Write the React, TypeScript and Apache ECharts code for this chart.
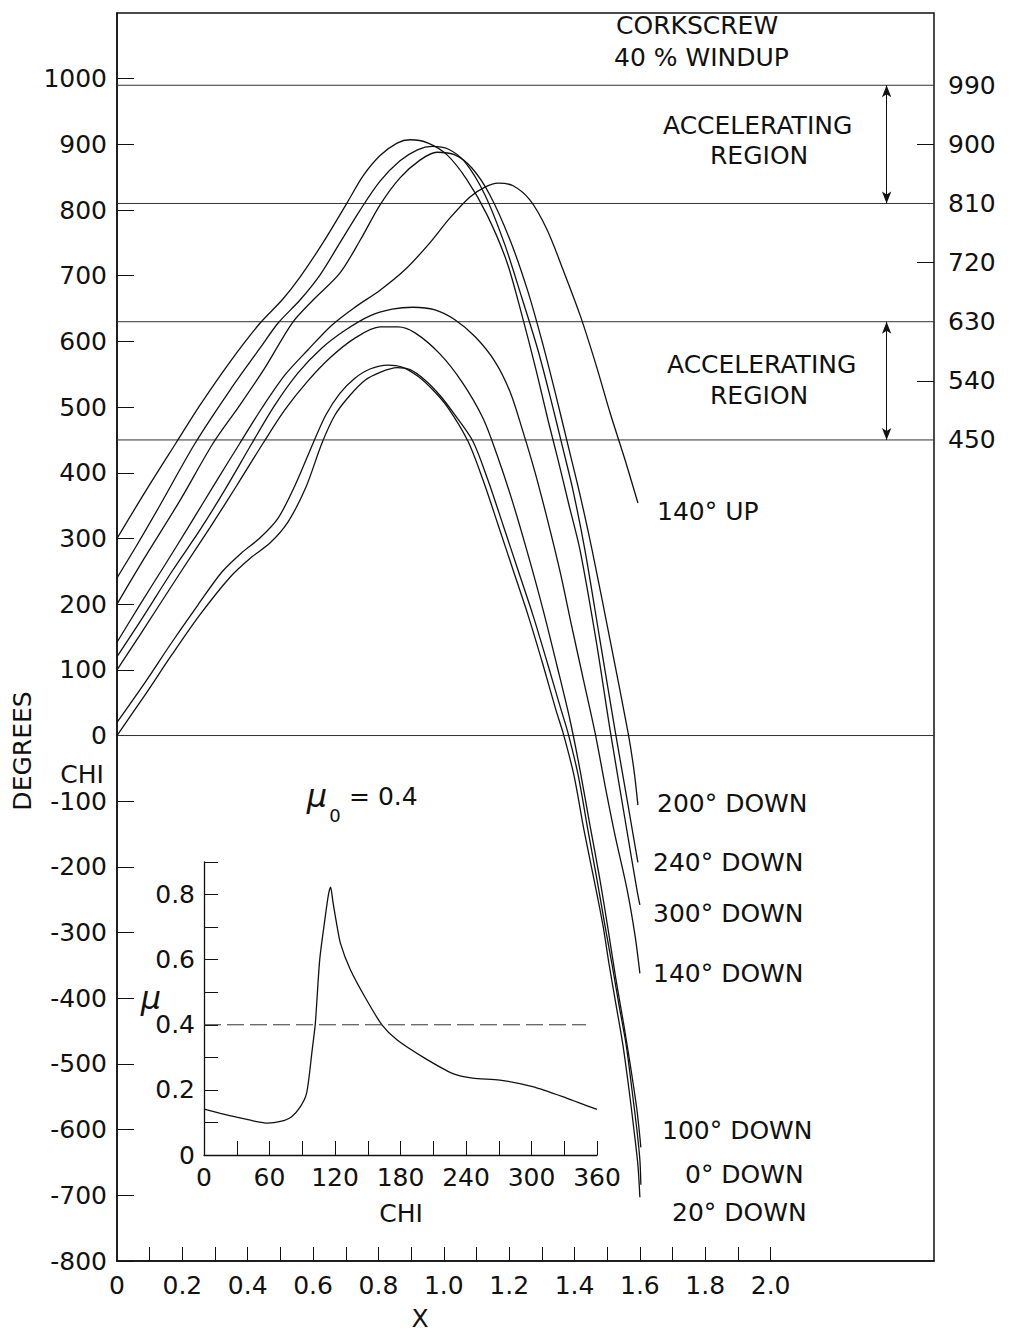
import React, { useEffect, useRef } from 'react';
import * as echarts from 'echarts';

const FONT = "'DejaVu Sans', 'Liberation Sans', sans-serif";

// ---------- main chart axes ----------
const xLabelValues = [0, 0.2, 0.4, 0.6, 0.8, 1.0, 1.2, 1.4, 1.6, 1.8, 2.0];
const xTickValues = [0.1, 0.2, 0.3, 0.4, 0.5, 0.6, 0.7, 0.8, 0.9, 1.0, 1.1, 1.2, 1.3, 1.4, 1.5, 1.6, 1.7, 1.8, 1.9, 2.0];
const yTickValues = [-800, -700, -600, -500, -400, -300, -200, -100, 0, 100, 200, 300, 400, 500, 600, 700, 800, 900, 1000];
const rightLabelValues = [450, 540, 630, 720, 810, 900, 990];
const rightTickValues = [540, 720, 900];
const regionLines = [990, 810, 630, 450, 0];
const acceleratingRanges = [[990, 810], [630, 450]];
const arrowX = 2.355;

// ---------- CHI (degrees) versus X curves ----------
const down300 = [[0, 300], [0.09, 374], [0.18, 445], [0.254, 503], [0.346, 569], [0.438, 628], [0.505, 663], [0.56, 698], [0.63, 750], [0.704, 811], [0.753, 852], [0.805, 883], [0.857, 902], [0.897, 907], [0.952, 902], [1.01, 884], [1.071, 846], [1.132, 793], [1.193, 721], [1.239, 640], [1.282, 557], [1.319, 480], [1.35, 419], [1.383, 351], [1.417, 282], [1.466, 145], [1.509, 8], [1.555, -129], [1.591, -235], [1.6, -258]];
const down240 = [[0, 240], [0.061, 290], [0.132, 351], [0.239, 445], [0.346, 526], [0.438, 590], [0.493, 628], [0.56, 663], [0.621, 701], [0.682, 750], [0.744, 800], [0.805, 844], [0.866, 875], [0.921, 892], [0.964, 897], [1.013, 893], [1.065, 873], [1.126, 823], [1.187, 747], [1.239, 666], [1.288, 587], [1.328, 511], [1.362, 442], [1.395, 374], [1.432, 282], [1.478, 145], [1.524, 8], [1.561, -98], [1.582, -159], [1.594, -193]];
const down200 = [[0, 200], [0.08, 267], [0.193, 358], [0.294, 445], [0.376, 503], [0.453, 560], [0.536, 628], [0.6, 663], [0.682, 704], [0.744, 754], [0.805, 808], [0.866, 849], [0.927, 876], [0.979, 888], [1.034, 884], [1.086, 864], [1.141, 823], [1.203, 754], [1.258, 675], [1.304, 594], [1.343, 518], [1.38, 442], [1.417, 366], [1.454, 282], [1.509, 145], [1.564, 4], [1.582, -53], [1.594, -106]];
const up140 = [[0, 142], [0.07, 199], [0.147, 260], [0.223, 321], [0.3, 384], [0.376, 445], [0.444, 499], [0.514, 549], [0.584, 587], [0.658, 625], [0.728, 652], [0.805, 678], [0.881, 709], [0.952, 747], [1.019, 788], [1.08, 820], [1.126, 835], [1.166, 841], [1.212, 837], [1.264, 815], [1.316, 770], [1.365, 709], [1.417, 640], [1.466, 564], [1.509, 491], [1.555, 419], [1.594, 354]];
const down140 = [[0, 120], [0.07, 173], [0.171, 252], [0.254, 313], [0.33, 374], [0.413, 445], [0.483, 503], [0.554, 552], [0.627, 590], [0.698, 617], [0.774, 639], [0.842, 649], [0.906, 652], [0.973, 648], [1.034, 633], [1.096, 607], [1.157, 569], [1.203, 523], [1.239, 468], [1.279, 401], [1.319, 325], [1.356, 249], [1.392, 165], [1.429, 81], [1.463, 4], [1.493, -75], [1.524, -152], [1.561, -235], [1.585, -304], [1.6, -362]];
const down100 = [[0, 100], [0.07, 153], [0.199, 252], [0.285, 317], [0.367, 381], [0.447, 445], [0.514, 496], [0.581, 538], [0.652, 575], [0.728, 605], [0.805, 622], [0.86, 622], [0.912, 613], [0.988, 581], [1.056, 538], [1.12, 483], [1.163, 427], [1.209, 358], [1.258, 275], [1.304, 191], [1.346, 107], [1.386, 24], [1.417, -53], [1.447, -136], [1.478, -220], [1.503, -296], [1.527, -372], [1.551, -441], [1.573, -509], [1.591, -570], [1.603, -627]];
const down20 = [[0, 20], [0.086, 81], [0.168, 142], [0.248, 199], [0.321, 249], [0.383, 279], [0.438, 301], [0.493, 331], [0.545, 381], [0.6, 445], [0.639, 488], [0.682, 521], [0.728, 544], [0.774, 558], [0.829, 564], [0.872, 561], [0.921, 547], [0.967, 526], [1.013, 499], [1.074, 448], [1.12, 389], [1.166, 321], [1.212, 252], [1.258, 183], [1.304, 107], [1.343, 39], [1.365, 4], [1.398, -60], [1.429, -144], [1.46, -220], [1.487, -289], [1.506, -349], [1.527, -410], [1.548, -471], [1.567, -540], [1.582, -601], [1.594, -654], [1.6, -703]];
const down0 = [[0, 0], [0.086, 62], [0.168, 123], [0.254, 184], [0.346, 241], [0.413, 272], [0.468, 293], [0.523, 325], [0.578, 378], [0.627, 445], [0.667, 488], [0.713, 518], [0.759, 541], [0.805, 553], [0.857, 560], [0.897, 557], [0.943, 541], [0.988, 518], [1.034, 488], [1.089, 448], [1.135, 389], [1.181, 321], [1.227, 252], [1.273, 183], [1.319, 107], [1.359, 39], [1.38, 4], [1.411, -60], [1.441, -144], [1.469, -220], [1.493, -289], [1.515, -349], [1.536, -410], [1.558, -471], [1.576, -540], [1.591, -601], [1.6, -646], [1.603, -684]];

const curveNames = ['300° DOWN', '240° DOWN', '200° DOWN', '140° UP', '140° DOWN', '100° DOWN', '20° DOWN', '0° DOWN'];
const curveData = [down300, down240, down200, up140, down140, down100, down20, down0];

// ---------- inset: mu versus CHI ----------
const muChi = [0, 15, 30, 45, 58, 70, 80, 88, 94, 99, 102, 106, 111, 114, 116, 118, 121, 125, 134, 149, 163, 177, 201, 228, 246, 271, 301, 332, 360];
const muValues = [0.141, 0.128, 0.116, 0.105, 0.098, 0.103, 0.117, 0.147, 0.19, 0.32, 0.405, 0.6, 0.73, 0.8, 0.823, 0.78, 0.72, 0.65, 0.57, 0.476, 0.4, 0.353, 0.3, 0.25, 0.236, 0.23, 0.21, 0.175, 0.14];
const muReference = 0.4;
const muReferenceChi = [0, 350];
const insetXLabels = [0, 60, 120, 180, 240, 300, 360];
const insetXTicks = [30, 60, 90, 120, 150, 180, 210, 240, 270, 300, 330, 360];
const insetYLabels = [0, 0.2, 0.4, 0.6, 0.8];
const insetYTicks = [0.1, 0.2, 0.3, 0.4, 0.5, 0.6, 0.7, 0.8, 0.9];

const BLACK = '#111';
const TEXT_SIZE = 25;

function txt(text: string, x: number, y: number, size: number, align = 'left', extra: any = {}) {
  return {
    type: 'text',
    x,
    y,
    silent: true,
    ...extra,
    style: {
      text,
      fontSize: size,
      fontFamily: FONT,
      fill: BLACK,
      align,
      verticalAlign: 'middle',
      textAlign: align,
      textVerticalAlign: 'middle',
      ...(extra.style || {}),
    },
  };
}

function buildOption() {
  const labelStyle = { color: BLACK, fontSize: 25, fontFamily: FONT };
  const tickLine = { color: BLACK, width: 1 };

  const curveSeries = curveData.map((d, i) => ({
    name: curveNames[i],
    type: 'line',
    xAxisIndex: 0,
    yAxisIndex: 0,
    data: d,
    symbol: 'none',
    smooth: 0.3,
    lineStyle: { color: BLACK, width: 1.3 },
    silent: true,
    z: 3,
  }));

  const regionSeries = regionLines.map((v, i) => ({
    name: 'line ' + v,
    type: 'line',
    xAxisIndex: 0,
    yAxisIndex: 0,
    data: [[0, v], [2.5, v]],
    symbol: 'none',
    lineStyle: { color: '#333', width: 1 },
    silent: true,
    z: 2,
    markLine: i === 0 ? {
      silent: true,
      symbol: ['arrow', 'arrow'],
      symbolSize: [7, 12],
      label: { show: false },
      lineStyle: { color: BLACK, width: 1, type: 'solid' },
      data: acceleratingRanges.map(([a, b]) => [{ coord: [arrowX, a] }, { coord: [arrowX, b] }]),
    } : undefined,
  }));

  const insetSeries = [
    {
      name: 'mu',
      type: 'line',
      xAxisIndex: 1,
      yAxisIndex: 2,
      data: muChi.map((c, i) => [c, muValues[i]]),
      symbol: 'none',
      smooth: 0.25,
      lineStyle: { color: BLACK, width: 1.3 },
      silent: true,
    },
    {
      name: 'mu0',
      type: 'line',
      xAxisIndex: 1,
      yAxisIndex: 2,
      data: muReferenceChi.map((c) => [c, muReference]),
      symbol: 'none',
      lineStyle: { color: '#333', width: 1, type: [17, 6] },
      silent: true,
    },
  ];

  return {
    animation: false,
    backgroundColor: '#fff',
    grid: [
      { left: 117, top: 13, width: 817, height: 1248, show: true, borderColor: BLACK, borderWidth: 1.5, backgroundColor: 'transparent' },
      { left: 204, top: 862, width: 393, height: 293, show: false },
    ],
    xAxis: [
      {
        type: 'value', gridIndex: 0, min: 0, max: 2.5, interval: 0.1,
        axisLine: { show: true, onZero: false, lineStyle: { color: BLACK, width: 1.5 } },
        axisTick: { show: true, inside: true, length: 14, customValues: xTickValues, lineStyle: tickLine },
        axisLabel: {
          ...labelStyle, margin: 12, customValues: xLabelValues, hideOverlap: false,
          formatter: (v: number) => {
            const r = Math.round(v * 10);
            if (r % 2 !== 0 || r > 20) return '';
            return r === 0 ? '0' : (r / 10).toFixed(1);
          },
        },
        splitLine: { show: false },
      },
      {
        type: 'value', gridIndex: 1, min: 0, max: 360, interval: 30,
        axisLine: { show: true, onZero: false, lineStyle: { color: BLACK, width: 1.3 } },
        axisTick: { show: true, inside: true, length: 14, customValues: insetXTicks, lineStyle: tickLine },
        axisLabel: {
          ...labelStyle, margin: 10, customValues: insetXLabels,
          formatter: (v: number) => (Math.round(v) % 60 === 0 ? String(Math.round(v)) : ''),
        },
        splitLine: { show: false },
      },
      {
        // tick-only companion of the main X axis (labels and line hidden), so that
        // the last tick under the last label is drawn as well
        type: 'value', gridIndex: 0, position: 'bottom', min: 0, max: 2.5, interval: 0.1,
        axisLine: { show: false, onZero: false },
        axisLabel: { show: false },
        axisTick: { show: true, inside: true, length: 14, customValues: xTickValues.slice(-2), lineStyle: tickLine },
        splitLine: { show: false },
      },
      {
        type: 'value', gridIndex: 1, position: 'bottom', min: 0, max: 360, interval: 30,
        axisLine: { show: false, onZero: false },
        axisLabel: { show: false },
        axisTick: { show: true, inside: true, length: 14, customValues: insetXTicks.slice(-2), lineStyle: tickLine },
        splitLine: { show: false },
      },
    ],
    yAxis: [
      {
        type: 'value', gridIndex: 0, position: 'left', min: -800, max: 1100, interval: 100,
        axisLine: { show: true, onZero: false, lineStyle: { color: BLACK, width: 1.5 } },
        axisTick: { show: true, inside: true, length: 17, customValues: yTickValues, lineStyle: tickLine },
        axisLabel: {
          ...labelStyle, margin: 10, customValues: yTickValues,
          formatter: (v: number) => (v > 1000 ? '' : String(v)),
        },
        splitLine: { show: false },
      },
      {
        type: 'value', gridIndex: 0, position: 'right', min: -800, max: 1100, interval: 90,
        axisLine: { show: false, onZero: false },
        axisTick: { show: true, inside: true, length: 17, customValues: rightTickValues, lineStyle: tickLine },
        axisLabel: {
          ...labelStyle, margin: 14, customValues: rightLabelValues,
          formatter: (v: number) => (rightLabelValues.indexOf(v) >= 0 ? String(v) : ''),
        },
        splitLine: { show: false },
      },
      {
        type: 'value', gridIndex: 1, min: 0, max: 0.9, interval: 0.1,
        axisLine: { show: true, onZero: false, lineStyle: { color: BLACK, width: 1.3 } },
        axisTick: { show: true, inside: true, length: 14, customValues: insetYTicks, lineStyle: tickLine },
        axisLabel: {
          ...labelStyle, margin: 9, customValues: insetYLabels,
          formatter: (v: number) => {
            const r = Math.round(v * 10);
            if (r % 2 !== 0 || r > 8) return '';
            return r === 0 ? '0' : (r / 10).toFixed(1);
          },
        },
        splitLine: { show: false },
      },
      {
        type: 'value', gridIndex: 1, position: 'left', min: 0, max: 0.9, interval: 0.1,
        axisLine: { show: false, onZero: false },
        axisLabel: { show: false },
        axisTick: { show: true, inside: true, length: 14, customValues: insetYTicks.slice(-2), lineStyle: tickLine },
        splitLine: { show: false },
      },
    ],
    series: [...regionSeries, ...curveSeries, ...insetSeries],
    graphic: [
      txt('CORKSCREW', 616, 25, TEXT_SIZE),
      txt('40 % WINDUP', 614, 57, TEXT_SIZE),
      txt('ACCELERATING', 663, 125, TEXT_SIZE),
      txt('REGION', 710, 155, TEXT_SIZE),
      txt('ACCELERATING', 667, 364, TEXT_SIZE),
      txt('REGION', 710, 395, TEXT_SIZE),
      txt(curveNames[3], 657, 511, TEXT_SIZE),
      txt('200° DOWN', 657, 803, TEXT_SIZE),
      txt('240° DOWN', 653, 862, TEXT_SIZE),
      txt('300° DOWN', 653, 913, TEXT_SIZE),
      txt('140° DOWN', 653, 973, TEXT_SIZE),
      txt('100° DOWN', 662, 1130, TEXT_SIZE),
      txt('0° DOWN', 685, 1174, TEXT_SIZE),
      txt('20° DOWN', 672, 1212, TEXT_SIZE),
      txt('DEGREES', 22, 751, TEXT_SIZE, 'center', { rotation: Math.PI / 2 }),
      txt('CHI', 82, 774, TEXT_SIZE, 'center'),
      txt('X', 420, 1318, TEXT_SIZE, 'center'),
      txt('CHI', 401, 1213, TEXT_SIZE, 'center'),
      txt('μ', 151, 998, 32, 'center', { style: { fontStyle: 'italic' } }),
      txt('μ', 317, 796, 32, 'center', { style: { fontStyle: 'italic' } }),
      txt('0', 335, 815, 18, 'center'),
      txt('= 0.4', 349, 796, TEXT_SIZE, 'left'),
    ],
  };
}

export default function App() {
  const ref = useRef<HTMLDivElement>(null);
  useEffect(() => {
    document.body.style.margin = '0';
    if (!ref.current) return;
    const chart = echarts.init(ref.current, undefined, { renderer: 'svg' });
    chart.setOption(buildOption() as any);
    return () => chart.dispose();
  }, []);
  return (
    <div
      ref={ref}
      style={{ position: 'absolute', left: 0, top: 0, width: 1013, height: 1332, background: '#fff' }}
    />
  );
}
